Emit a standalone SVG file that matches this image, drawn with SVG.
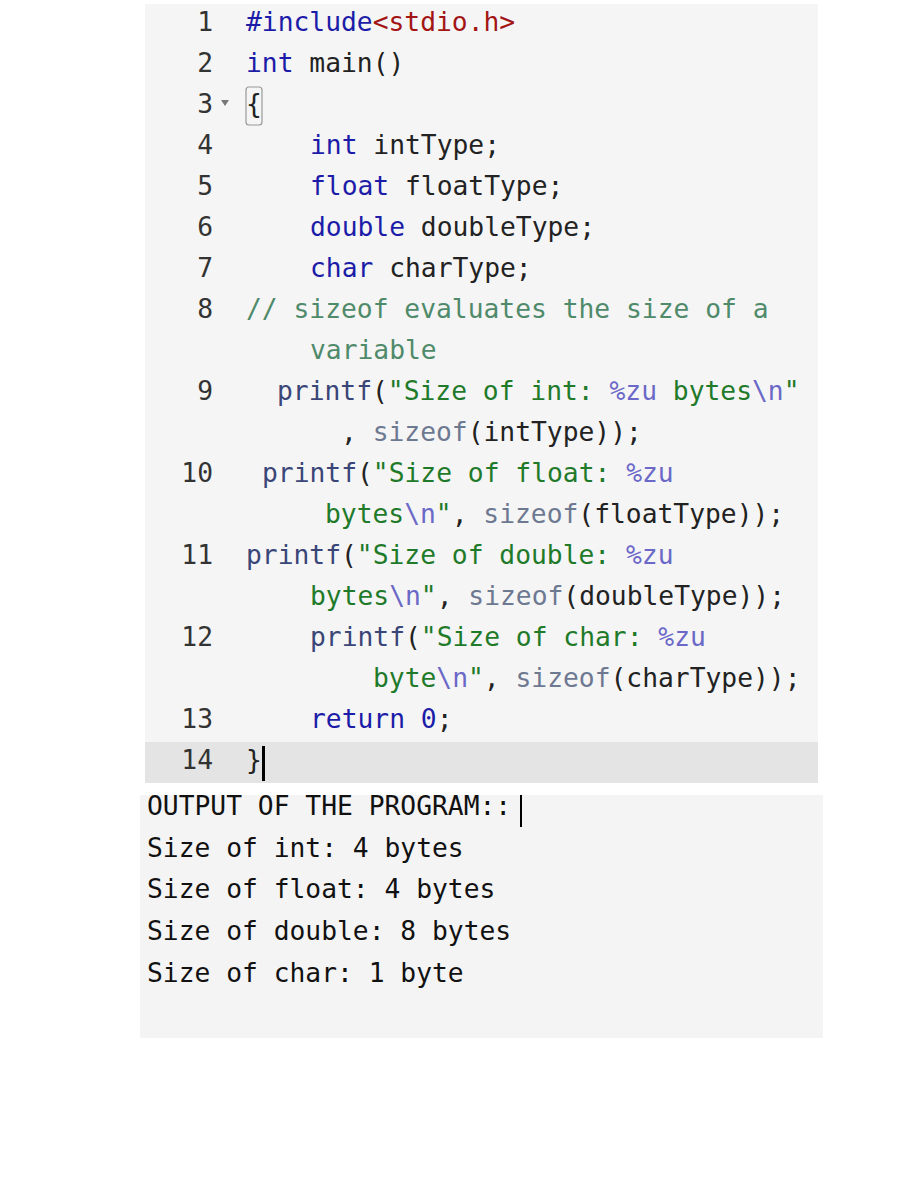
<svg xmlns="http://www.w3.org/2000/svg" width="900" height="1200" viewBox="0 0 900 1200">
<style>
text{font-family:"DejaVu Sans Mono","Liberation Mono",monospace;font-size:26.3px;fill:#222;white-space:pre}
.n{fill:#333;text-anchor:end}
.k{fill:#1c1ca8}.r{fill:#a31515}.c{fill:#4f8a6a}.s{fill:#1f7a2a}.e{fill:#6b68c8}.z{fill:#6d7891}.f{fill:#3a4677}
.o{fill:#111}
</style>
<rect width="900" height="1200" fill="#fff"/>
<g id="code-panel">
<rect x="145" y="4" width="673" height="779" fill="#f5f5f5"/>
<rect x="145" y="742" width="673" height="41" fill="#e4e4e4"/>
<rect x="246" y="87" width="16" height="38" rx="3" fill="none" stroke="#999" stroke-width="1.2"/>
<path d="M221 100 L229 100 L225 106 Z" fill="#777"/>
<rect x="262" y="746" width="3" height="35" fill="#000"/>
</g>
<g id="line-numbers">
<text class="n" x="213" y="31">1</text>
<text class="n" x="213" y="72">2</text>
<text class="n" x="213" y="113">3</text>
<text class="n" x="213" y="154">4</text>
<text class="n" x="213" y="195">5</text>
<text class="n" x="213" y="236">6</text>
<text class="n" x="213" y="277">7</text>
<text class="n" x="213" y="318">8</text>
<text class="n" x="213" y="400">9</text>
<text class="n" x="213" y="482">10</text>
<text class="n" x="213" y="564">11</text>
<text class="n" x="213" y="646">12</text>
<text class="n" x="213" y="728">13</text>
<text class="n" x="213" y="769">14</text>
</g>
<g id="code">
<text x="246" y="31"><tspan class="k">#include</tspan><tspan class="r">&lt;stdio.h&gt;</tspan></text>
<text x="246" y="72"><tspan class="k">int</tspan> main()</text>
<text x="246" y="113">{</text>
<text x="310" y="154"><tspan class="k">int</tspan> intType;</text>
<text x="310" y="195"><tspan class="k">float</tspan> floatType;</text>
<text x="310" y="236"><tspan class="k">double</tspan> doubleType;</text>
<text x="310" y="277"><tspan class="k">char</tspan> charType;</text>
<text x="246" y="318" class="c">// sizeof evaluates the size of a</text>
<text x="310" y="359" class="c">variable</text>
<text x="277" y="400"><tspan class="f">printf</tspan>(<tspan class="s">"Size of int: </tspan><tspan class="e">%zu</tspan><tspan class="s"> bytes</tspan><tspan class="e">\n</tspan><tspan class="s">"</tspan></text>
<text x="341" y="441">, <tspan class="z">sizeof</tspan>(intType));</text>
<text x="262" y="482"><tspan class="f">printf</tspan>(<tspan class="s">"Size of float: </tspan><tspan class="e">%zu</tspan></text>
<text x="325" y="523"><tspan class="s">bytes</tspan><tspan class="e">\n</tspan><tspan class="s">"</tspan>, <tspan class="z">sizeof</tspan>(floatType));</text>
<text x="246" y="564"><tspan class="f">printf</tspan>(<tspan class="s">"Size of double: </tspan><tspan class="e">%zu</tspan></text>
<text x="310" y="605"><tspan class="s">bytes</tspan><tspan class="e">\n</tspan><tspan class="s">"</tspan>, <tspan class="z">sizeof</tspan>(doubleType));</text>
<text x="310" y="646"><tspan class="f">printf</tspan>(<tspan class="s">"Size of char: </tspan><tspan class="e">%zu</tspan></text>
<text x="373" y="687"><tspan class="s">byte</tspan><tspan class="e">\n</tspan><tspan class="s">"</tspan>, <tspan class="z">sizeof</tspan>(charType));</text>
<text x="310" y="728"><tspan class="k">return</tspan> <tspan class="k">0</tspan>;</text>
<text x="246" y="769">}</text>
</g>
<g id="output-panel">
<rect x="140" y="795" width="683" height="243" fill="#f4f4f4"/>
<text class="o" x="147" y="815">OUTPUT OF THE PROGRAM::</text>
<rect x="520" y="795" width="2" height="32" fill="#000"/>
<text class="o" x="147" y="857">Size of int: 4 bytes</text>
<text class="o" x="147" y="898">Size of float: 4 bytes</text>
<text class="o" x="147" y="940">Size of double: 8 bytes</text>
<text class="o" x="147" y="982">Size of char: 1 byte</text>
</g>
</svg>
